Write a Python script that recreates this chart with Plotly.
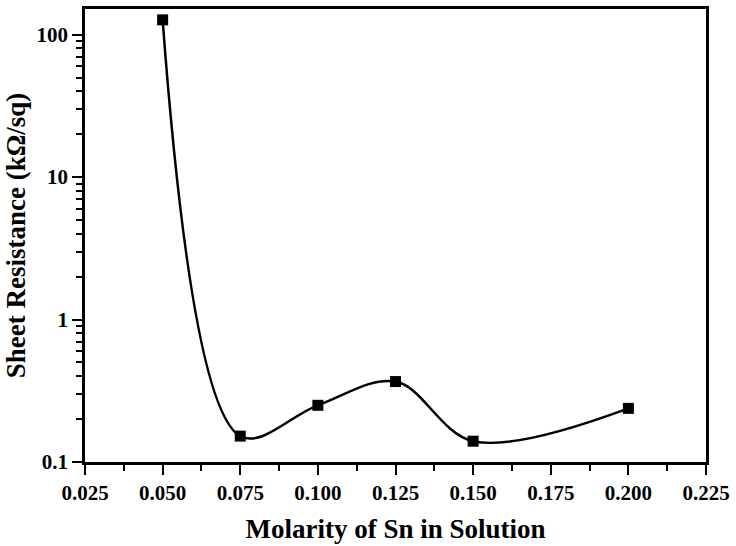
import plotly.graph_objects as go

# Sheet resistance versus Sn molarity in the precursor solution
molarity = [0.050, 0.075, 0.100, 0.125, 0.150, 0.200]
resistance = [127, 0.152, 0.25, 0.367, 0.14, 0.238]  # kΩ/sq

x_ticks = [0.025, 0.050, 0.075, 0.100, 0.125, 0.150, 0.175, 0.200, 0.225]
x_tick_text = ["0.025", "0.050", "0.075", "0.100", "0.125", "0.150", "0.175", "0.200", "0.225"]
y_ticks = [0.1, 1, 10, 100]
y_tick_text = ["0.1", "1", "10", "100"]

font_family = "Liberation Serif"

fig = go.Figure()
fig.add_trace(go.Scatter(
    x=molarity,
    y=resistance,
    mode="lines+markers",
    line=dict(shape="spline", smoothing=1.0, color="black", width=2.5),
    marker=dict(symbol="square", size=11, color="black"),
    showlegend=False,
))

axis_common = dict(
    showline=True,
    linecolor="black",
    linewidth=2.5,
    mirror=True,
    showgrid=False,
    zeroline=False,
    ticks="outside",
    tickcolor="black",
    tickwidth=2,
    ticklen=10,
    tickfont=dict(family=font_family, size=21, color="black", weight="bold"),
)

fig.update_layout(
    width=736,
    height=546,
    margin=dict(l=85, r=26, t=6, b=84),
    paper_bgcolor="white",
    plot_bgcolor="white",
    xaxis=dict(
        **axis_common,
        range=[0.025, 0.225],
        tickvals=x_ticks,
        ticktext=x_tick_text,
        minor=dict(ticks="outside", ticklen=6, tickwidth=2, tickcolor="black",
                   tick0=0.025, dtick=0.0125),
        title=dict(text="Molarity of Sn in Solution",
                   font=dict(family=font_family, size=27, color="black", weight="bold"),
                   standoff=16),
    ),
    yaxis=dict(
        **axis_common,
        type="log",
        range=[-1, 2.18],
        tickvals=y_ticks,
        ticktext=y_tick_text,
        minor=dict(ticks="outside", ticklen=6, tickwidth=2, tickcolor="black", dtick="D1"),
        title=dict(text="Sheet Resistance (kΩ/sq)",
                   font=dict(family=font_family, size=27, color="black", weight="bold"),
                   standoff=4),
    ),
)

fig.write_html("out.html")
